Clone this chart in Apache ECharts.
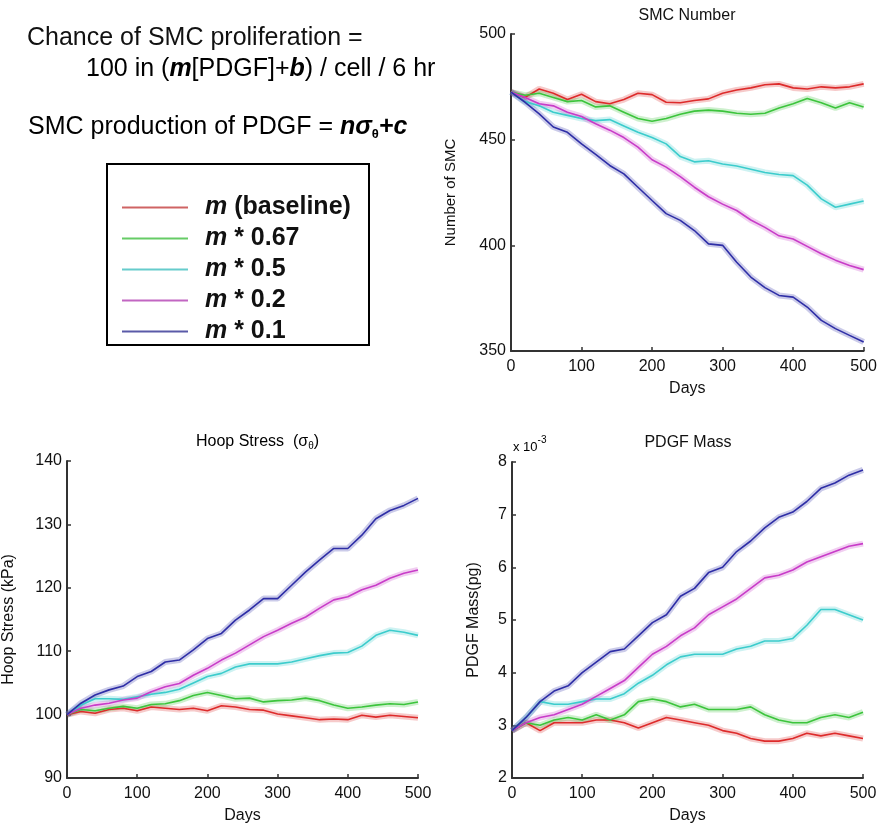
<!DOCTYPE html>
<html>
<head>
<meta charset="utf-8">
<script src="https://cdn.jsdelivr.net/npm/echarts@6/dist/echarts.min.js"></script>
<style>html,body{margin:0;padding:0;background:#fff}#c{width:880px;height:829px}</style>
</head>
<body>
<div id="c"></div>
<script>
// ---- data ----
const days = [0,20,40,60,80,100,120,140,160,180,200,220,240,260,280,300,320,340,360,380,400,420,440,460,480,500];
const seriesNames = ['m (baseline)','m * 0.67','m * 0.5','m * 0.2','m * 0.1'];
const seriesColors = ['#dd2b2b','#3cc43c','#3ccccc','#c83cc8','#2e2ea6'];
const legendColors = ['#cf6464','#66cc66','#66cccc','#c266c2','#5a5aa8'];

// SMC Number
const smcBaseline = [472.5,470,474,472,469,471.5,468,467,469,472,471.3,467.7,467.5,468.5,469.3,472,473.5,474.5,476,476.4,474.5,474,475,474.5,475,476.4];
const smc067 = [472.5,471,472,470,468,468.5,465.5,466,463,460,458.7,460,462,463.5,464,463.5,462.5,462,462.5,465,467,469.5,467.5,465,467.5,465.5];
const smc05 = [472.5,468,466,463,461.5,460,459,459.5,456.5,453.5,451,448,442,439.5,440,438.5,437.5,436,434.5,433.5,433,428.5,422,418,419.5,421];
const smc02 = [472.5,470,467,466,463,461,457.5,454.5,451,446.5,440.5,437,432.5,427.5,423,419.5,416.5,412,408.5,404.5,403,399.5,396,393,390.5,388.5];
const smc01 = [472.5,467.7,462.2,456,453.5,448,443,437.8,433.8,427.5,421.2,415,411.8,407,400.7,400,392,385,380,376.3,375.5,370.8,364.5,360.6,357.4,354.3];

// Hoop Stress (kPa)
const hoopBaseline = [100,100.5,100.2,100.8,101,100.6,101.2,101,100.8,101,100.6,101.4,101.2,100.8,100.7,100.1,99.8,99.5,99.2,99.3,99.2,99.9,99.6,99.9,99.7,99.5];
const hoop067 = [100,100.8,100.6,101,101.3,101,101.6,101.7,102.2,103,103.5,103,102.5,102.6,102,102.2,102.3,102.6,102.2,101.5,101,101.2,101.5,101.7,101.6,102];
const hoop05 = [100,101.5,102.5,102.5,102.4,102.8,103.2,103.5,104,105,106,106.5,107.5,108,108,108,108.3,108.8,109.3,109.7,109.8,110.8,112.5,113.3,113,112.5];
const hoop02 = [100,101,101.5,101.8,102.3,102.6,103.6,104.4,104.9,106.2,107.3,108.6,109.7,111,112.3,113.3,114.4,115.4,116.8,118.1,118.6,119.7,120.4,121.5,122.3,122.8];
const hoop01 = [100,101.8,103.1,103.9,104.5,106,106.8,108.3,108.6,110.2,112,112.8,114.9,116.5,118.3,118.3,120.4,122.5,124.4,126.2,126.2,128.3,130.9,132.2,133,134.1];

// PDGF Mass (pg, x 10^-3)
const pdgfBaseline = [2.9,3.05,2.9,3.05,3.05,3.05,3.1,3.1,3.05,2.95,3.05,3.15,3.1,3.05,3.0,2.9,2.85,2.75,2.7,2.7,2.75,2.85,2.8,2.85,2.8,2.75];
const pdgf067 = [2.9,3.05,3.0,3.1,3.15,3.1,3.2,3.1,3.2,3.45,3.5,3.45,3.35,3.4,3.3,3.3,3.3,3.35,3.2,3.1,3.05,3.05,3.15,3.2,3.15,3.25];
const pdgf05 = [2.9,3.15,3.45,3.4,3.4,3.45,3.5,3.5,3.6,3.8,3.95,4.15,4.3,4.35,4.35,4.35,4.45,4.5,4.6,4.6,4.65,4.9,5.2,5.2,5.1,5.0];
const pdgf02 = [2.9,3.05,3.15,3.2,3.3,3.4,3.55,3.7,3.85,4.1,4.35,4.5,4.7,4.85,5.1,5.25,5.4,5.6,5.8,5.85,5.95,6.1,6.2,6.3,6.4,6.45];
const pdgf01 = [2.9,3.15,3.45,3.65,3.75,4.0,4.2,4.4,4.45,4.7,4.95,5.1,5.45,5.6,5.9,6.0,6.3,6.5,6.75,6.95,7.05,7.25,7.5,7.6,7.75,7.85];

const xTicks = [0,100,200,300,400,500];
const smcTicks = [350,400,450,500];
const hoopTicks = [90,100,110,120,130,140];
const pdgfTicks = [2,3,4,5,6,7,8];

// ---- build ----
const FONT = 'Liberation Sans, Arial, Helvetica, sans-serif';
const panels = [
  {sets:[smcBaseline,smc067,smc05,smc02,smc01], ticks:smcTicks, interval:50, name:'Number of SMC', gap:53, nameSize:15},
  {sets:[hoopBaseline,hoop067,hoop05,hoop02,hoop01], ticks:hoopTicks, interval:10, name:'Hoop Stress (kPa)', gap:50, nameSize:16},
  {sets:[pdgfBaseline,pdgf067,pdgf05,pdgf02,pdgf01], ticks:pdgfTicks, interval:1, name:'PDGF Mass(pg)', gap:30, nameSize:16}
];
const grids = [
  {left:511, top:34, width:353, height:317},
  {left:67, top:461, width:351, height:317},
  {left:512, top:462, width:351, height:316}
];
const axisLine = {lineStyle:{color:'#333', width:2}};
const axisTick = {inside:true, length:4, lineStyle:{color:'#333', width:1.5}};
const axisLabelStyle = {color:'#111', fontSize:16, fontFamily:FONT};

const xAxis = grids.map((g,i)=>({
  type:'value', gridIndex:i, min:xTicks[0], max:xTicks[xTicks.length-1], interval:100,
  axisLine, axisTick, splitLine:{show:false},
  axisLabel:Object.assign({margin:8}, axisLabelStyle),
  name:'Days', nameLocation:'middle', nameGap:30,
  nameTextStyle:{color:'#111', fontSize:16, fontFamily:FONT}
}));
const yAxis = panels.map((p,i)=>({
  type:'value', gridIndex:i, min:p.ticks[0], max:p.ticks[p.ticks.length-1], interval:p.interval,
  axisLine:Object.assign({show:true}, axisLine), axisTick, splitLine:{show:false},
  axisLabel:Object.assign({margin:5}, axisLabelStyle),
  name:p.name, nameLocation:'middle', nameGap:p.gap, nameRotate:90,
  nameTextStyle:{color:'#111', fontSize:p.nameSize, fontFamily:FONT}
}));

const series = [];
panels.forEach((p,gi)=>{
  p.sets.forEach((vals,si)=>{
    const data = days.map((d,k)=>[d, vals[k]]);
    series.push({
      type:'line', name:seriesNames[si]+' band', xAxisIndex:gi, yAxisIndex:gi, data,
      showSymbol:false, silent:true, z:1,
      lineStyle:{color:seriesColors[si], width:6, opacity:0.25}
    });
    series.push({
      type:'line', name:seriesNames[si], xAxisIndex:gi, yAxisIndex:gi, data,
      showSymbol:false, z:3, color:seriesColors[si],
      lineStyle:{color:seriesColors[si], width:1.6}
    });
  });
});

const txt = {fontSize:25, fontFamily:FONT, color:'#111'};
const bi = {fontSize:25, fontFamily:FONT, color:'#111', fontWeight:'bold', fontStyle:'italic'};
const option = {
  animation:false,
  backgroundColor:'#fff',
  grid:grids,
  xAxis, yAxis, series,
  legend:{
    orient:'vertical', left:117, top:190,
    data:seriesNames.map((n,i)=>({name:n, itemStyle:{color:legendColors[i]}})),
    icon:'rect', itemWidth:66, itemHeight:2, itemGap:6,
    selectedMode:false,
    formatter:(n)=>'{i|m}{b|'+n.slice(1)+'}',
    textStyle:{
      rich:{
        i:{fontSize:25, fontWeight:'bold', fontStyle:'italic', fontFamily:FONT, color:'#111', padding:[0,0,0,12], lineHeight:25},
        b:{fontSize:25, fontWeight:'bold', fontFamily:FONT, color:'#111', lineHeight:25}
      }
    }
  },
  graphic:[
    {type:'rect', shape:{x:107, y:164, width:262, height:181}, style:{fill:'none', stroke:'#000', lineWidth:2}, z:0},
    {type:'text', x:27, y:38, style:{text:'Chance of SMC proliferation =', font:'25px '+FONT, fill:'#111', verticalAlign:'middle'}},
    {type:'text', x:86, y:69, style:{
      text:'{t|100 in (}{bi|m}{t|[PDGF]+}{bi|b}{t|) / cell / 6 hr}', verticalAlign:'middle',
      rich:{t:txt, bi:bi}}},
    {type:'text', x:28, y:127, style:{
      text:'{t|SMC production of PDGF = }{bi|nσ}{s|θ}{bi|+c}', verticalAlign:'middle',
      rich:{t:txt, bi:bi, s:{fontSize:13, fontFamily:FONT, color:'#111', fontWeight:'bold', padding:[14,0,0,0]}}}},
    {type:'text', x:687, y:16, style:{text:'SMC Number', font:'16px '+FONT, fill:'#111', align:'center', verticalAlign:'middle'}},
    {type:'text', x:196, y:442, style:{
      text:'{t|Hoop Stress  (σ}{s|θ}{t|)}', verticalAlign:'middle',
      rich:{t:{fontSize:16, fontFamily:FONT, color:'#111'}, s:{fontSize:10, fontFamily:FONT, color:'#111', padding:[8,0,0,0]}}}},
    {type:'text', x:688, y:443, style:{text:'PDGF Mass', font:'16px '+FONT, fill:'#111', align:'center', verticalAlign:'middle'}},
    {type:'text', x:513, y:447, style:{
      text:'{t|x 10}{s|-3}', verticalAlign:'middle',
      rich:{t:{fontSize:13, fontFamily:FONT, color:'#111'}, s:{fontSize:10, fontFamily:FONT, color:'#111', padding:[0,0,14,0]}}}}
  ]
};
const chart = echarts.init(document.getElementById('c'), null, {renderer:'canvas'});
chart.setOption(option);
</script>
</body>
</html>
